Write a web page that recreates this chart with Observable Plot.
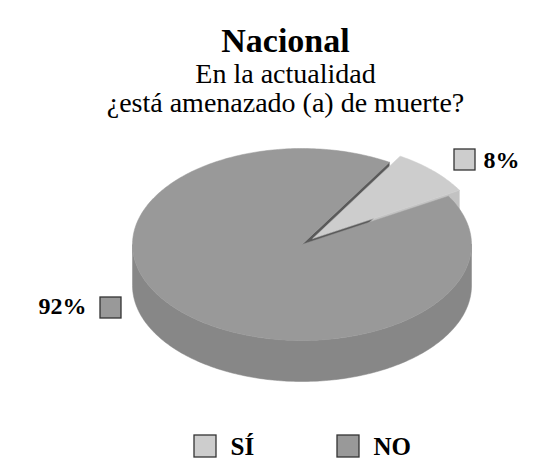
<!DOCTYPE html>
<html>
<head>
<meta charset="utf-8">
<script src="https://cdn.jsdelivr.net/npm/d3@7"></script>
<script src="https://cdn.jsdelivr.net/npm/@observablehq/plot@0.6"></script>
<style>
  html, body { margin: 0; padding: 0; background: #fff; }
  #chart svg { display: block; }
</style>
</head>
<body>
<div id="chart"></div>
<script>
// ---- data ----
const categories = ["SÍ", "NO"];
const values = [8, 92];
const valueLabels = ["8%", "92%"];
const titleText = "Nacional";
const subtitleLines = ["En la actualidad", "¿está amenazado (a) de muerte?"];

// ---- style / layout ----
const W = 546, H = 475;
const FONT = "'Liberation Serif', 'Times New Roman', serif";
const topColors = ["#cdcdcd", "#999999"];
const wallColors = ["#c2c2c2", "#878787"];
const darkFace = "#5a5a5a";
const geo = {cx: 301.5, cy: 244, rx: 169.5, ry: 96, depth: 41, startDeg: 31, explode: [0.09, 0]};
const labelLayout = [ // key square position, text side and gap for each data label
  {sx: 454, sy: 149, side: "right", gap: 8},
  {sx: 100, sy: 297, side: "left", gap: 14}
];
const sq = 21;
const legendLayout = {x0: 194, dx: 143, y: 435, sq: 22, gap: 14};

// ---- geometry from data via d3.pie ----
const rad = Math.PI / 180;
const a0 = geo.startDeg * rad;
const arcs = d3.pie().sort(null).startAngle(a0).endAngle(a0 + 2 * Math.PI)(values);

function pt(a, dz, o) {
  return {x: geo.cx + o.x + geo.rx * Math.sin(a), y: geo.cy + o.y - geo.ry * Math.cos(a) + dz};
}
function arcPts(s, e, dz, o) {
  const n = Math.max(2, Math.ceil(Math.abs(e - s) / rad));
  return d3.range(n + 1).map(k => pt(s + (e - s) * k / n, dz, o));
}

const slices = arcs.map((d, i) => {
  const mid = (d.startAngle + d.endAngle) / 2;
  const e = geo.explode[i];
  const o = {x: e * geo.rx * Math.sin(mid), y: -e * geo.ry * Math.cos(mid)};
  const c = {x: geo.cx + o.x, y: geo.cy + o.y};
  const top = [c, ...arcPts(d.startAngle, d.endAngle, 0, o)];
  const walls = [];
  for (let k = 0; k < 2; k++) {
    const lo = Math.max(d.startAngle, Math.PI / 2 + 2 * Math.PI * k);
    const hi = Math.min(d.endAngle, 1.5 * Math.PI + 2 * Math.PI * k);
    if (hi > lo) walls.push([...arcPts(lo, hi, 0, o), ...arcPts(hi, lo, geo.depth, o)]);
  }
  const face = a => [c, pt(a, 0, o), pt(a, geo.depth, o), {x: c.x, y: c.y + geo.depth}];
  const faces = [];
  if (Math.sin(d.endAngle) > 0) faces.push(face(d.endAngle));
  if (Math.sin(d.startAngle) < 0) faces.push(face(d.startAngle));
  return {i, top, walls, faces};
});

const marks = [];
const poly = (pts, fill) => Plot.line(pts, {x: "x", y: "y", fill, stroke: fill, strokeWidth: 0.5, curve: "linear-closed"});

slices.forEach(s => s.faces.forEach(f => marks.push(poly(f, s.i === 1 ? darkFace : wallColors[s.i]))));
slices.forEach(s => s.walls.forEach(w => marks.push(poly(w, wallColors[s.i]))));
slices.forEach(s => marks.push(poly(s.top, topColors[s.i])));

// data labels with keys
const labelRows = categories.map((c, i) => ({c, i, label: valueLabels[i], ...labelLayout[i]}));
marks.push(Plot.rect(labelRows, {
  x1: d => d.sx, x2: d => d.sx + sq, y1: d => d.sy, y2: d => d.sy + sq,
  fill: d => topColors[d.i], stroke: "#333", strokeWidth: 1.3
}));
const textStyle = {fontSize: 24, fontWeight: "bold", fontFamily: FONT, fill: "#000"};
marks.push(Plot.text(labelRows.filter(d => d.side === "right"), {
  x: d => d.sx + sq + d.gap, y: d => d.sy + sq / 2, text: "label", textAnchor: "start", ...textStyle
}));
marks.push(Plot.text(labelRows.filter(d => d.side === "left"), {
  x: d => d.sx - d.gap, y: d => d.sy + sq / 2 - 2, text: "label", textAnchor: "end", ...textStyle
}));

// title & subtitle
marks.push(Plot.text([titleText], {x: () => 285, y: () => 41, text: d => d, fontSize: 34, fontWeight: "bold", fontFamily: FONT, fill: "#000"}));
marks.push(Plot.text(subtitleLines, {x: () => 285, y: (d, i) => 74 + i * 29, text: d => d, fontSize: 28, fontFamily: FONT, fill: "#000"}));

// legend
const L = legendLayout;
const legendRows = categories.map((c, i) => ({c, i}));
marks.push(Plot.rect(legendRows, {
  x1: d => L.x0 + d.i * L.dx, x2: d => L.x0 + d.i * L.dx + L.sq,
  y1: () => L.y, y2: () => L.y + L.sq,
  fill: d => topColors[d.i], stroke: "#333", strokeWidth: 1.3
}));
marks.push(Plot.text(legendRows, {
  x: d => L.x0 + d.i * L.dx + L.sq + L.gap,
  y: () => L.y + L.sq / 2,
  text: "c", textAnchor: "start", ...textStyle, fontSize: 25
}));

const chart = Plot.plot({
  width: W, height: H,
  margin: 0,
  style: {fontFamily: FONT},
  x: {domain: [0, W], range: [0, W], axis: null},
  y: {domain: [0, H], range: [0, H], axis: null},
  marks
});
document.getElementById("chart").appendChild(chart);
</script>
</body>
</html>
